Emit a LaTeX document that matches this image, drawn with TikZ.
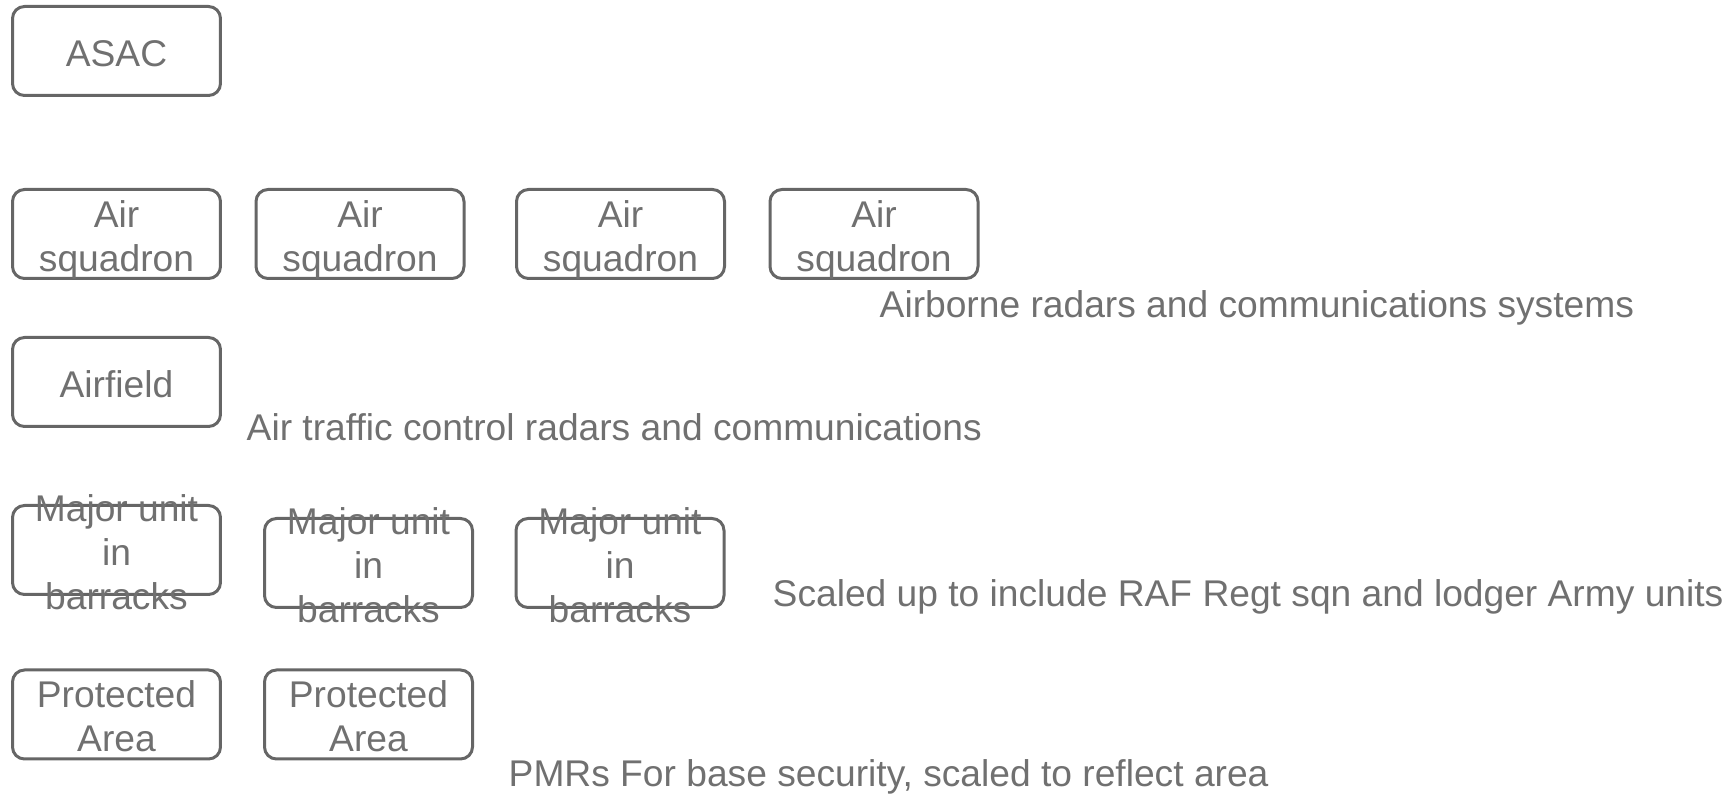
\documentclass[tikz,border=0pt]{standalone}
\usepackage{fontspec}
\setmainfont{Liberation Sans}
\definecolor{boxline}{HTML}{666666}
\definecolor{boxtext}{HTML}{707070}
% strut giving every line the same line box
\newcommand\ls{\rule[-0.93mm]{0pt}{4.4mm}}
\tikzset{
	every node/.style={font=\fontsize{10.58}{12.52}\selectfont},
	unit/.style={draw=boxline, line width=0.3mm, rounded corners=1.2mm,
		minimum width=20.8mm, minimum height=8.9mm, inner sep=0pt},
	unitlabel/.style={text=boxtext, align=center, inner sep=0pt, yshift=-0.25mm},
	note/.style={text=boxtext, anchor=base west, inner sep=0pt}
}
\begin{document}
\begin{tikzpicture}[x=0.1mm, y=-0.1mm]
		\useasboundingbox (0,0) rectangle (1729,794);

		\node[unit] (asac) at (116.5,51) {};
		\node[unitlabel] (asac-t) at (asac) {\ls ASAC};

		\node[unit] (sqn1) at (116.5,234) {};
		\node[unit] (sqn2) at (360,234) {};
		\node[unit] (sqn3) at (620.5,234) {};
		\node[unit] (sqn4) at (874,234) {};
		\node[unitlabel] (sqn1-t) at (sqn1) {\ls Air\\\ls squadron};
		\node[unitlabel] (sqn2-t) at (sqn2) {\ls Air\\\ls squadron};
		\node[unitlabel] (sqn3-t) at (sqn3) {\ls Air\\\ls squadron};
		\node[unitlabel] (sqn4-t) at (sqn4) {\ls Air\\\ls squadron};

		\node[unit] (airfield) at (116.5,382) {};
		\node[unitlabel] (airfield-t) at (airfield) {\ls Airfield};

		\node[unit] (maj1) at (116.5,550) {};
		\node[unit] (maj2) at (368.5,563) {};
		\node[unit] (maj3) at (620,563) {};
		\node[unitlabel] (maj1-t) at (maj1) {\ls Major unit\\\ls in\\\ls barracks};
		\node[unitlabel] (maj2-t) at (maj2) {\ls Major unit\\\ls in\\\ls barracks};
		\node[unitlabel] (maj3-t) at (maj3) {\ls Major unit\\\ls in\\\ls barracks};

		\node[unit] (prot1) at (116.5,714.5) {};
		\node[unit] (prot2) at (368.5,714.5) {};
		\node[unitlabel] (prot1-t) at (prot1) {\ls Protected\\\ls Area};
		\node[unitlabel] (prot2-t) at (prot2) {\ls Protected\\\ls Area};

		\node[note] (sqn-note) at (879,318) {Airborne radars and communications systems};
		\node[note] (airfield-note) at (246,441) {Air traffic control radars and communications};
		\node[note] (maj-note) at (772,607) {Scaled up to include RAF Regt sqn and lodger Army units};
		\node[note] (prot-note) at (508,787) {PMRs For base security, scaled to reflect area};
	\end{tikzpicture}
\end{document}
